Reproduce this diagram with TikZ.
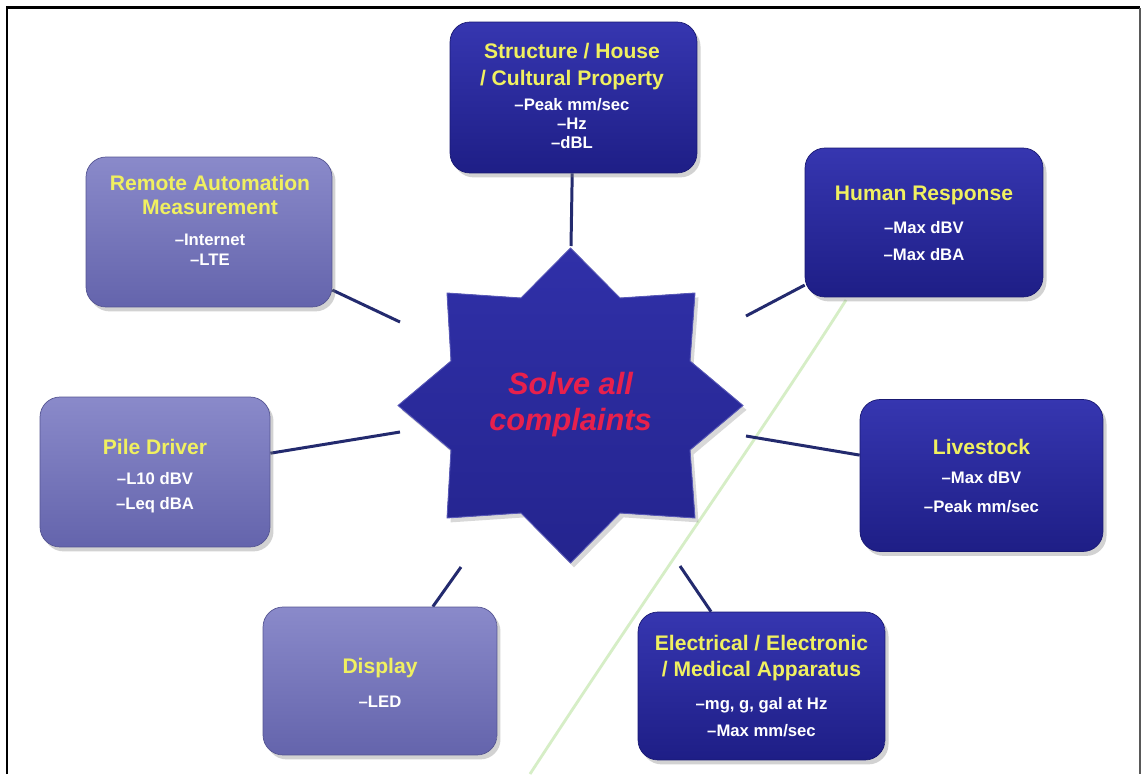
\documentclass[tikz,border=0pt]{standalone}
\usepackage{fontspec}
\setmainfont{Liberation Sans}
\usetikzlibrary{shadows,backgrounds}
\definecolor{dkA}{HTML}{3636B0}
\definecolor{dkB}{HTML}{1E1E86}
\definecolor{ltA}{HTML}{8A8ACA}
\definecolor{ltB}{HTML}{6464AC}
\definecolor{navy}{HTML}{232A6E}
\definecolor{ylw}{HTML}{F0F060}
\definecolor{redt}{HTML}{E8204C}
\definecolor{grn}{HTML}{D6EEC6}
\definecolor{starA}{HTML}{3030A8}
\definecolor{starB}{HTML}{24248E}
\begin{document}
\begin{tikzpicture}[x=0.02cm,y=-0.02cm,
  box/.style={rounded corners=0.4cm, inner sep=0pt,
    drop shadow={opacity=0.35,shadow xshift=2pt,shadow yshift=-2.5pt}},
  darkbox/.style={box, top color=dkA, bottom color=dkB, draw=dkB!85!black, line width=0.4pt},
  lightbox/.style={box, top color=ltA, bottom color=ltB, draw=ltB!85!black, line width=0.4pt},
  head/.style={text=ylw, align=center, inner sep=0pt, font=\bfseries\fontsize{12}{#1}\selectfont},
  head/.default=15,
  item/.style={text=white, align=center, inner sep=0pt, font=\bfseries\fontsize{9.5}{#1}\selectfont},
  item/.default=11,
  conn/.style={draw=navy, line width=1.7pt}
]
\useasboundingbox (0,0) rectangle (1142,774);
% frame
\draw[black, line width=1.2pt] (7,774) -- (7,7.5) -- (1140,7.5);
\draw[black!65, line width=1.2pt] (1140,7.5) -- (1140,774);

% star
\fill[top color=starA, bottom color=starB, draw=starA!80!white, line width=0.5pt,
  drop shadow={opacity=0.3,shadow xshift=2pt,shadow yshift=-2.5pt}]
  (570.5,248) -- (620,298) -- (695,293) -- (690,361) -- (743,405.5)
  -- (690,450) -- (695,518) -- (620,513) -- (570.5,563) -- (521,513)
  -- (447,518) -- (451,450) -- (398,405.5) -- (451,361) -- (447,293)
  -- (521,298) -- cycle;
\node[text=redt, align=center, inner sep=0pt,
  font=\bfseries\itshape\fontsize{17.5}{20.5}\selectfont] (c) at (570.5,405) {Solve all\\complaints};

% boxes
\node[darkbox, minimum width=4.94cm, minimum height=3.02cm] (s) at (573.5,97.5) {};
\node[darkbox, minimum width=4.76cm, minimum height=2.98cm] (h) at (924,222.5) {};
\node[darkbox, minimum width=4.86cm, minimum height=3.04cm] (l) at (981.5,475.5) {};
\node[darkbox, minimum width=4.94cm, minimum height=2.96cm] (e) at (761.5,686) {};
\node[lightbox, minimum width=4.68cm, minimum height=2.96cm] (d) at (380,681) {};
\node[lightbox, minimum width=4.60cm, minimum height=3.00cm] (p) at (155,472) {};
\node[lightbox, minimum width=4.92cm, minimum height=3.00cm] (r) at (209,232) {};

% texts
\node[head=15.3] (sh) at (572,66.5) {Structure / House\\/ Cultural Property};
\node[item=10.8] (si) at (572,124) {\textendash Peak mm/sec\\\textendash Hz\\\textendash dBL};
\node[head] (hh) at (924,195) {Human Response};
\node[item=15.9] (hi) at (924,241) {\textendash Max dBV\\\textendash Max dBA};
\node[head] (lh) at (981.5,447) {Livestock};
\node[item=16.4] (li) at (981.5,492.5) {\textendash Max dBV\\\textendash Peak mm/sec};
\node[head=14.7] (eh) at (761.5,658) {Electrical / Electronic\\/ Medical Apparatus};
\node[item=15.3] (ei) at (761.5,717.5) {\textendash mg, g, gal at Hz\\\textendash Max mm/sec};
\node[head] (dh) at (380,668) {Display};
\node[item] (di) at (380,702) {\textendash LED};
\node[head] (ph) at (155,447) {Pile Driver};
\node[item=14.2] (pi) at (155,492.5) {\textendash L10 dBV\\\textendash Leq dBA};
\node[head=13.6] (rh) at (210,195) {Remote Automation\\Measurement};
\node[item=11.3] (ri) at (210,250) {\textendash Internet\\\textendash LTE};

% connector free ends near the star
\coordinate (cs) at (571,246);
\coordinate (ch) at (746,316);
\coordinate (cl) at (746,436);
\coordinate (ce) at (680,566);
\coordinate (cd) at (461,567);
\coordinate (cp) at (400,432);
\coordinate (cr) at (400,322);

\begin{scope}[on background layer]
  \fill[white] (0,0) rectangle (1142,774);
  \draw[grn, line width=1.6pt] (846,300) .. controls (770,420) and (650,590) .. (530,774);
  \draw[conn] (s) -- (cs);
  \draw[conn] (h) -- (ch);
  \draw[conn] (l) -- (cl);
  \draw[conn] (e) -- (ce);
  \draw[conn] (d) -- (cd);
  \draw[conn] (p) -- (cp);
  \draw[conn] (r) -- (cr);
\end{scope}
\end{tikzpicture}
\end{document}
